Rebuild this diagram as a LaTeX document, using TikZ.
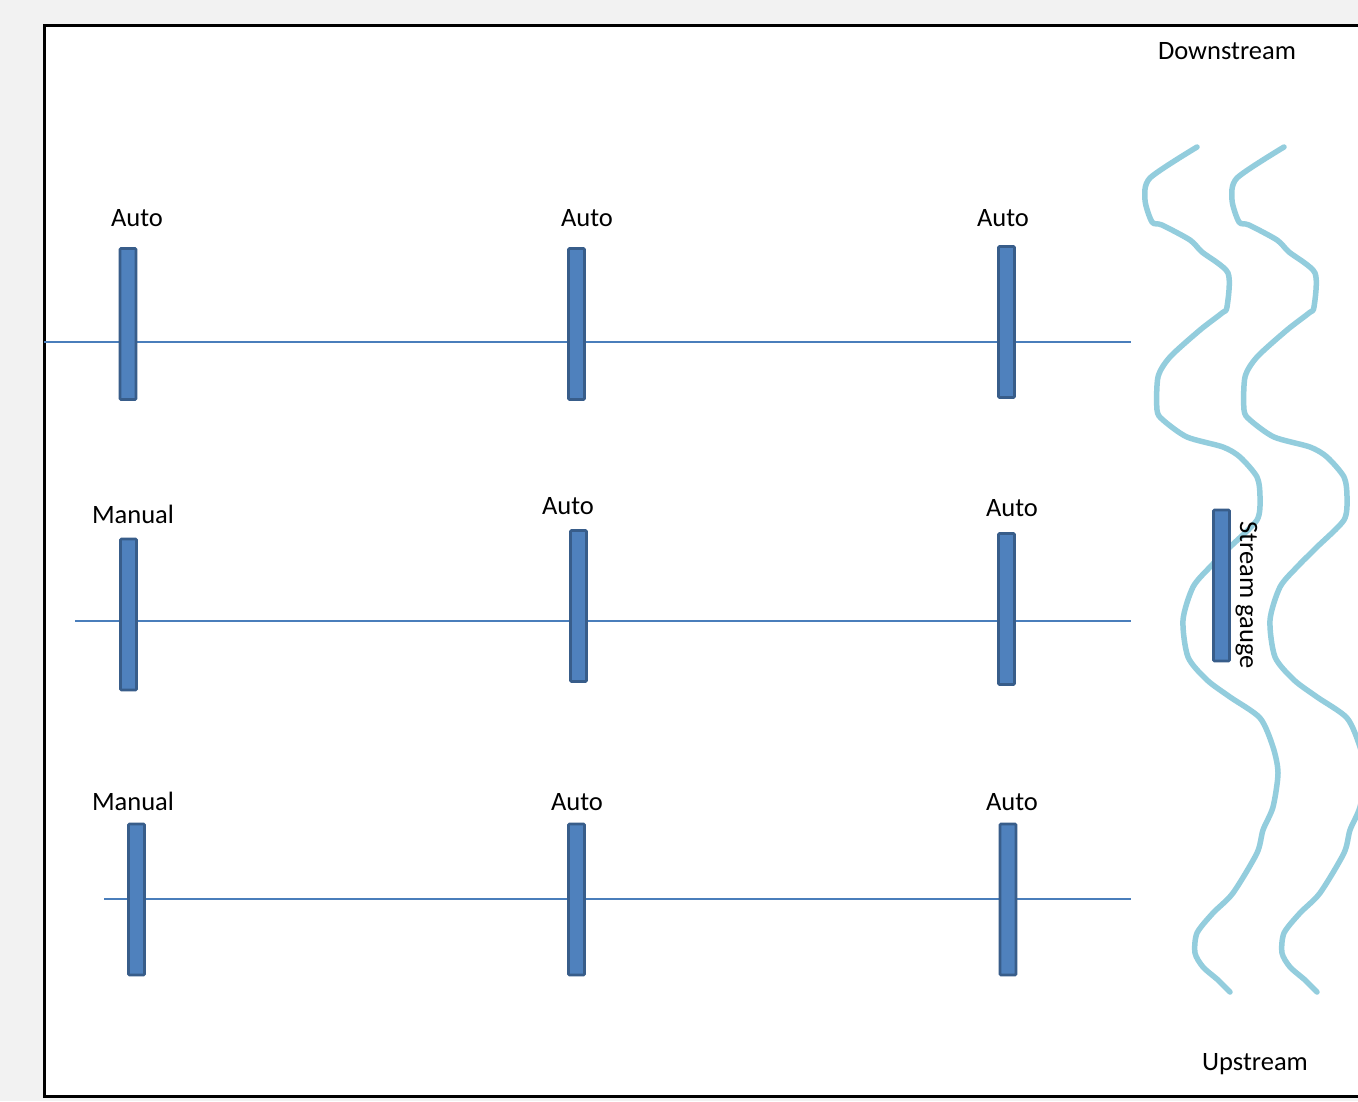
\documentclass[tikz,border=0pt]{standalone}
\usepackage{fontspec}
\setmainfont{Carlito}
\definecolor{pagegray}{HTML}{F2F2F2}
\definecolor{gatefill}{HTML}{4F81BD}
\definecolor{gateedge}{HTML}{385D8A}
\definecolor{pipeline}{HTML}{4A7EBB}
\definecolor{riverblue}{HTML}{93CDDD}
\begin{document}
\begin{tikzpicture}[x=1pt,y=-1pt,
  gate/.style={rectangle, draw=gateedge, fill=gatefill, line width=2.6pt,
    minimum width=16pt, minimum height=151pt, inner sep=0pt, rounded corners=1pt},
  lbl/.style={anchor=base, inner sep=0pt, font=\fontsize{26.5}{32}\selectfont},
  pipe/.style={draw=pipeline, line width=2pt},
  bank/.style={draw=riverblue, line width=5.5pt, line cap=round, line join=round}]
  % page and frame
  \fill[pagegray] (0,0) rectangle (1358,1101);
  \useasboundingbox (0,0) rectangle (1358,1101);
  \begin{scope}
    \clip (0,0) rectangle (1358,1101);
    \fill[white] (44,25) rectangle (1380,1096);
    \draw[black, line width=3pt] (1380,25) -- (44,25) -- (44,1096) -- (1380,1096);

    % river banks
    \def\riverpath{(1197,147) (1150,178) (1145,200) (1152,222) (1162,225)
      (1190,240) (1202,252) (1228,273) (1227,307) (1222,313) (1200,330)
      (1170,357) (1158,377) (1157,410) (1163,420) (1187,437) (1223,447)
      (1240,457) (1257,477) (1260,497) (1257,520) (1230,547) (1210,567)
      (1193,587) (1183,620) (1188,657) (1207,680) (1230,697) (1260,718)
      (1273,747) (1278,773) (1273,807) (1263,830) (1257,853) (1233,893)
      (1213,913) (1197,933) (1195,953) (1203,967) (1218,980) (1230,992)}
    \draw[bank] plot[smooth, tension=0.45] coordinates {\riverpath};
    \begin{scope}[xshift=87pt]
      \draw[bank] plot[smooth, tension=0.45] coordinates {\riverpath};
    \end{scope}
  \end{scope}

  % pipeline end points
  \coordinate (p1s) at (44,342);  \coordinate (p1e) at (1131,342);
  \coordinate (p2s) at (75,621);  \coordinate (p2e) at (1131,621);
  \coordinate (p3s) at (104,899); \coordinate (p3e) at (1131,899);
  \draw[pipe] (p1s) -- (p1e);
  \draw[pipe] (p2s) -- (p2e);
  \draw[pipe] (p3s) -- (p3e);

  % gates, first row
  \node[gate] (g11) at (128,324) {};
  \node[gate] (g12) at (576.5,324) {};
  \node[gate] (g13) at (1006.5,322) {};
  % gates, second row
  \node[gate] (g21) at (128.5,614.5) {};
  \node[gate] (g22) at (578.5,606) {};
  \node[gate] (g23) at (1006.5,609) {};
  % gates, third row
  \node[gate] (g31) at (136.5,899.5) {};
  \node[gate] (g32) at (576.5,899.5) {};
  \node[gate] (g33) at (1008,899.5) {};
  % stream gauge
  \node[gate] (sg) at (1221.5,585.5) {};

  % labels
  \node[lbl] (l11) at (137,226) {Auto};
  \node[lbl] (l12) at (587,226) {Auto};
  \node[lbl] (l13) at (1003,226) {Auto};
  \node[lbl] (l21) at (133,523) {Manual};
  \node[lbl] (l22) at (568,514) {Auto};
  \node[lbl] (l23) at (1012,516) {Auto};
  \node[lbl] (l31) at (133,810) {Manual};
  \node[lbl] (l32) at (577,810) {Auto};
  \node[lbl] (l33) at (1012,810) {Auto};
  \node[lbl] (down) at (1227,59) {Downstream};
  \node[lbl] (up) at (1255,1070) {Upstream};
  \node[lbl, rotate=-90] (sgl) at (1240,595) {Stream gauge};
\end{tikzpicture}
\end{document}
